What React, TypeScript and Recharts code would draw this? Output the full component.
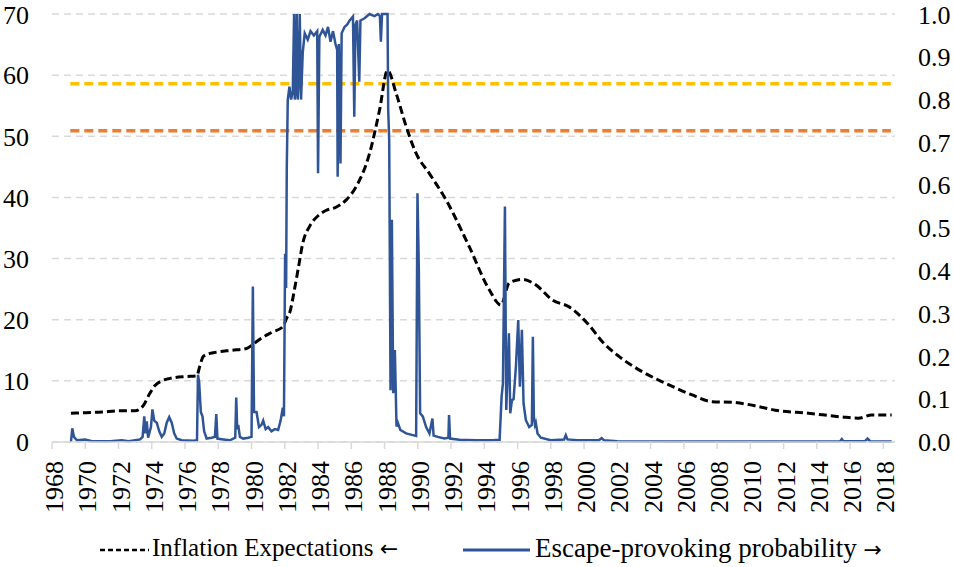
import { LineChart, Line, CartesianGrid, XAxis, YAxis } from 'recharts';

// inflation expectations (left axis)
const inflYears = [
  1969.14, 1970.0, 1971.0, 1972.0, 1973.0, 1973.5, 1973.85, 1974.18, 1974.6, 1975.1, 1976.0, 1976.7,
  1976.9, 1977.1, 1977.5, 1977.9, 1978.8, 1979.7, 1980.1, 1980.5, 1981.2, 1981.9, 1982.1, 1982.3,
  1982.58, 1982.85, 1983.08, 1983.5, 1984.0, 1984.5, 1985.0, 1985.7, 1986.3, 1987.1, 1987.7, 1988.18,
  1988.7, 1989.3, 1989.9, 1990.7, 1991.7, 1993.1, 1994.3, 1995.0, 1995.5, 1996.3, 1997.1, 1998.1,
  1999.1, 2000.3, 2001.1, 2002.1, 2003.5, 2004.9, 2006.5, 2007.7, 2008.9, 2010.5, 2011.5, 2013.5,
  2015.5, 2016.5, 2017.3, 2018.5,
];
const inflValues = [
  4.7, 4.8, 4.9, 5.1, 5.1, 6.0, 7.8, 9.2, 10.0, 10.4, 10.7, 10.8,
  12.5, 14.0, 14.5, 14.7, 15.0, 15.3, 16.0, 16.8, 17.9, 18.9, 20.2, 21.2,
  24.9, 29.0, 32.5, 35.3, 37.0, 37.9, 38.3, 39.6, 41.8, 47.2, 54.3, 60.8,
  57.0, 51.6, 47.2, 43.9, 39.6, 31.9, 24.9, 22.4, 26.0, 26.6, 25.7, 23.2,
  22.1, 19.1, 16.4, 14.0, 11.5, 9.6, 7.7, 6.6, 6.5, 5.8, 5.2, 4.7,
  4.1, 3.9, 4.4, 4.4,
];

// escape-provoking probability (right axis)
const escYears = [
  1969.14, 1969.22, 1969.32, 1969.5, 1970.0, 1970.4, 1971.5, 1972.2, 1972.6, 1973.3, 1973.45, 1973.55,
  1973.62, 1973.7, 1973.78, 1973.95, 1974.04, 1974.15, 1974.3, 1974.45, 1974.6, 1974.75, 1974.9, 1975.05,
  1975.2, 1975.35, 1975.5, 1975.8, 1976.5, 1976.72, 1976.78, 1976.85, 1976.95, 1977.05, 1977.15, 1977.3,
  1977.6, 1977.8, 1977.88, 1977.95, 1978.3, 1978.7, 1979.02, 1979.08, 1979.14, 1979.2, 1979.3, 1979.5,
  1979.8, 1980.0, 1980.08, 1980.15, 1980.3, 1980.45, 1980.6, 1980.7, 1980.85, 1981.0, 1981.2, 1981.4,
  1981.6, 1981.75, 1981.88, 1981.95, 1982.02, 1982.08, 1982.12, 1982.18, 1982.28, 1982.38, 1982.48, 1982.56,
  1982.6, 1982.66, 1982.72, 1982.78, 1982.85, 1982.9, 1982.98, 1983.08, 1983.2, 1983.38, 1983.55, 1983.75,
  1983.95, 1984.0, 1984.08, 1984.28, 1984.45, 1984.6, 1984.75, 1984.9, 1985.05, 1985.15, 1985.18, 1985.25,
  1985.35, 1985.42, 1985.6, 1985.75, 1985.9, 1986.1, 1986.18, 1986.25, 1986.35, 1986.48, 1986.55, 1986.8,
  1987.1, 1987.4, 1987.6, 1987.72, 1987.78, 1987.85, 1988.18, 1988.22, 1988.28, 1988.36, 1988.44, 1988.52,
  1988.62, 1988.72, 1988.8, 1988.95, 1989.3, 1989.7, 1989.9, 1989.98, 1990.06, 1990.14, 1990.3, 1990.5,
  1990.7, 1990.88, 1990.95, 1991.2, 1991.6, 1991.84, 1991.88, 1991.94, 1992.5, 1993.5, 1994.5, 1994.92,
  1995.04, 1995.12, 1995.24, 1995.32, 1995.48, 1995.56, 1995.66, 1995.76, 1995.9, 1996.04, 1996.14, 1996.26,
  1996.36, 1996.5, 1996.7, 1996.86, 1996.92, 1996.98, 1997.05, 1997.1, 1997.2, 1997.4, 1998.0, 1998.8,
  1998.9, 1999.0, 1999.6, 2000.9, 2001.05, 2001.2, 2002.0, 2006.0, 2010.0, 2015.4, 2015.5, 2015.6,
  2016.9, 2017.05, 2017.2, 2018.5,
];
const escValues = [
  0.0, 0.032, 0.012, 0.004, 0.006, 0.002, 0.002, 0.004, 0.002, 0.006, 0.012, 0.06,
  0.02, 0.048, 0.01, 0.035, 0.076, 0.05, 0.045, 0.025, 0.012, 0.02, 0.045, 0.058,
  0.045, 0.02, 0.008, 0.004, 0.003, 0.004, 0.157, 0.14, 0.07, 0.06, 0.025, 0.008,
  0.01, 0.012, 0.065, 0.008, 0.006, 0.004, 0.01, 0.104, 0.03, 0.04, 0.012, 0.008,
  0.01, 0.012, 0.363, 0.07, 0.07, 0.035, 0.04, 0.05, 0.03, 0.035, 0.025, 0.03,
  0.028, 0.05, 0.08, 0.06, 0.44, 0.36, 0.64, 0.8, 0.83, 0.8, 0.82, 1.0,
  0.8, 0.82, 1.0, 0.8, 0.85, 1.0, 0.8, 0.91, 0.955, 0.94, 0.96, 0.95,
  0.96, 0.628, 0.947, 0.963, 0.95, 0.97, 0.935, 0.96, 0.93, 0.916, 0.62, 0.93,
  0.651, 0.955, 0.97, 0.975, 0.985, 0.994, 0.76, 0.975, 0.985, 0.842, 0.985, 0.99,
  1.0, 0.995, 1.0, 0.995, 0.935, 1.0, 1.0, 0.776, 0.706, 0.121, 0.519, 0.114,
  0.215, 0.036, 0.045, 0.028, 0.02, 0.016, 0.014, 0.581, 0.41, 0.067, 0.06, 0.035,
  0.02, 0.055, 0.015, 0.012, 0.008, 0.01, 0.063, 0.008, 0.005, 0.004, 0.004, 0.005,
  0.106, 0.137, 0.55, 0.075, 0.254, 0.067, 0.098, 0.1, 0.176, 0.285, 0.129, 0.262,
  0.09, 0.051, 0.035, 0.04, 0.246, 0.06, 0.04, 0.045, 0.02, 0.01, 0.004, 0.006,
  0.016, 0.006, 0.004, 0.004, 0.009, 0.004, 0.002, 0.001, 0.001, 0.002, 0.007, 0.002,
  0.002, 0.008, 0.002, 0.001,
];

// threshold lines (left axis units)
const thresholdYears = [1969.1, 2018.45];
const yellowLevel = 58.6;
const orangeLevel = 50.9;

const yearTicks = [
  1968, 1970, 1972, 1974, 1976, 1978, 1980, 1982, 1984, 1986, 1988, 1990, 1992,
  1994, 1996, 1998, 2000, 2002, 2004, 2006, 2008, 2010, 2012, 2014, 2016, 2018,
];
const leftTicks = [0, 10, 20, 30, 40, 50, 60, 70];
const rightTicks = [0, 0.1, 0.2, 0.3, 0.4, 0.5, 0.6, 0.7, 0.8, 0.9, 1.0];

const inflData = inflYears.map((year, i) => ({ year, infl: inflValues[i] }));
const escData = escYears.map((year, i) => ({ year, esc: escValues[i] }));
const yellowData = thresholdYears.map((year) => ({ year, level: yellowLevel }));
const orangeData = thresholdYears.map((year) => ({ year, level: orangeLevel }));

const FONT = 'Liberation Serif';
const ARROW_FONT = 'DejaVu Sans';

function YearTick(props: any) {
  const { x, y, payload } = props;
  return (
    <text
      transform={`translate(${x + 11},${y + 10}) rotate(-90)`}
      textAnchor="end"
      fontSize={26}
      fontFamily={FONT}
      fill="#000"
    >
      {payload.value}
    </text>
  );
}

export default function App() {
  return (
    <div style={{ position: 'absolute', left: 0, top: 0, width: 953, height: 567, background: '#fff', fontFamily: FONT }}>
      <LineChart width={953} height={567} margin={{ top: 14, right: 0, left: 0, bottom: 0 }}>
        <CartesianGrid yAxisId="left" vertical={false} stroke="#D9D9D9" strokeWidth={1.5} strokeDasharray="7 5" />
        <XAxis
          dataKey="year"
          type="number"
          domain={[1968, 2018.7]}
          ticks={yearTicks}
          allowDataOverflow
          height={125}
          stroke="#D9D9D9"
          strokeWidth={1.5}
          tickSize={7}
          tick={<YearTick />}
          interval={0}
        />
        <YAxis
          yAxisId="left"
          domain={[0, 70]}
          ticks={leftTicks}
          width={52}
          axisLine={false}
          tickLine={false}
          tickSize={0}
          tickMargin={23}
          tick={{ fontSize: 26, fill: '#000', fontFamily: FONT }}
        />
        <YAxis
          yAxisId="right"
          orientation="right"
          domain={[0, 1]}
          ticks={rightTicks}
          width={58}
          axisLine={false}
          tickLine={false}
          tickSize={0}
          tickMargin={23}
          tickFormatter={(v: number) => v.toFixed(1)}
          tick={{ fontSize: 26, fill: '#000', fontFamily: FONT }}
        />
        <Line yAxisId="left" data={yellowData} dataKey="level" stroke="#FFC000" strokeWidth={3.5} strokeDasharray="9 5" dot={false} isAnimationActive={false} />
        <Line yAxisId="left" data={orangeData} dataKey="level" stroke="#ED7D31" strokeWidth={3.5} strokeDasharray="9 5" dot={false} isAnimationActive={false} />
        <Line yAxisId="left" data={inflData} dataKey="infl" type="monotone" stroke="#000" strokeWidth={3} strokeDasharray="8 4" dot={false} isAnimationActive={false} />
        <Line yAxisId="right" data={escData} dataKey="esc" type="linear" stroke="#2F5597" strokeWidth={2.5} dot={false} isAnimationActive={false} />
      </LineChart>
      <div style={{ position: 'absolute', top: 533, left: 0, width: 953, height: 34, fontSize: 25, color: '#000' }}>
        <svg style={{ position: 'absolute', left: 100, top: 14 }} width={49} height={6}>
          <line x1={0} y1={3} x2={49} y2={3} stroke="#000" strokeWidth={2.5} strokeDasharray="5 3" />
        </svg>
        <span style={{ position: 'absolute', left: 152, top: 1, whiteSpace: 'nowrap' }}>
          Inflation Expectations <span style={{ fontFamily: ARROW_FONT, fontSize: 22 }}>←</span>
        </span>
        <svg style={{ position: 'absolute', left: 463, top: 14 }} width={67} height={6}>
          <line x1={0} y1={3} x2={67} y2={3} stroke="#2F5597" strokeWidth={3} />
        </svg>
        <span style={{ position: 'absolute', left: 535, top: 0, whiteSpace: 'nowrap', fontSize: 27 }}>
          Escape-provoking probability <span style={{ fontFamily: ARROW_FONT, fontSize: 22 }}>→</span>
        </span>
      </div>
    </div>
  );
}
